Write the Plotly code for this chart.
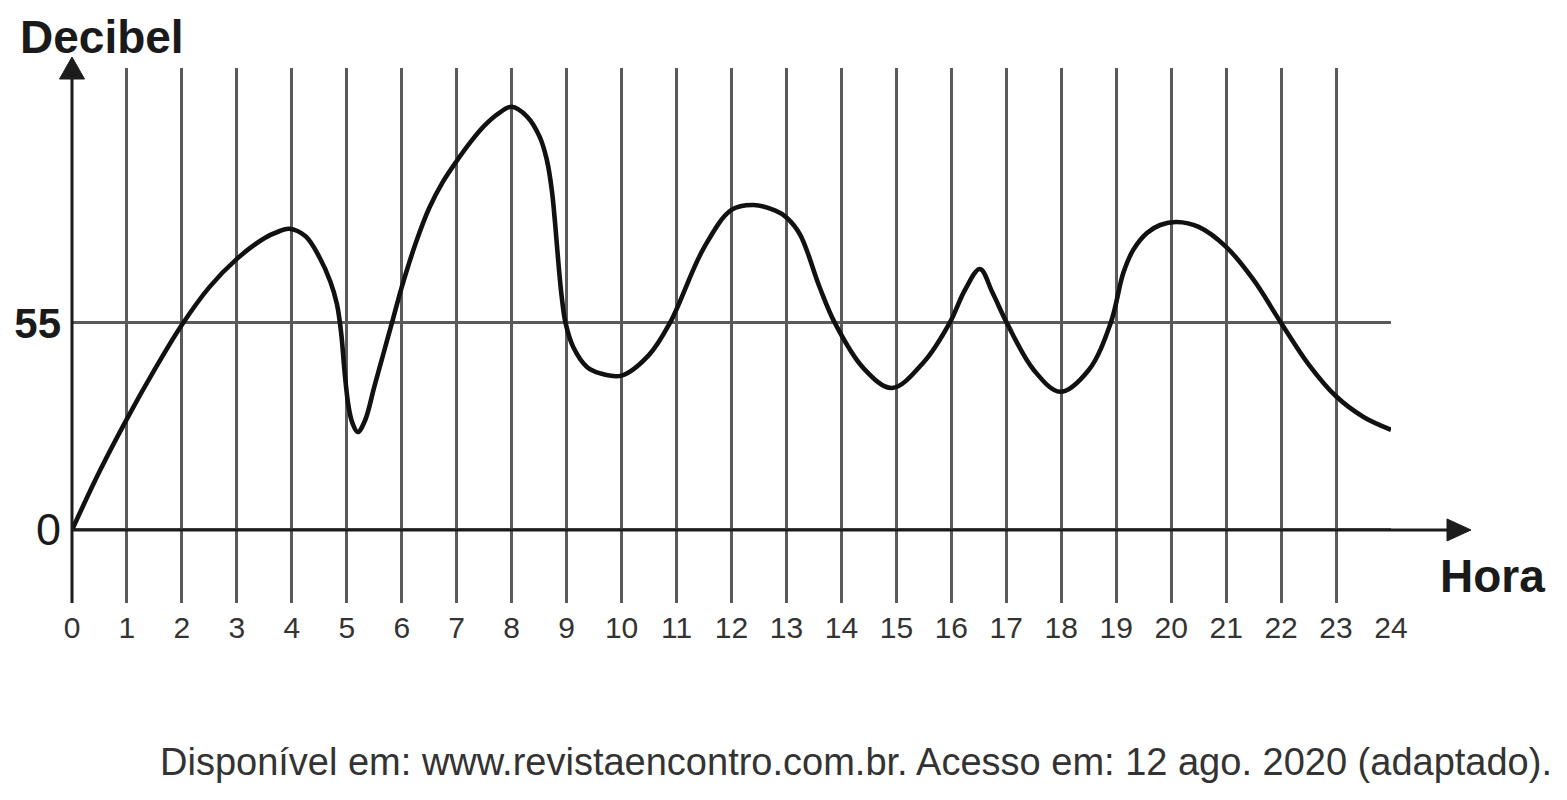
import plotly.graph_objects as go

# ---- data ----
hours = [0, 0.5, 1, 1.5, 2, 2.5, 3, 3.5, 3.75, 3.95, 4.25, 4.5, 4.7, 4.82, 4.9,
         4.96, 5.03, 5.1, 5.2, 5.33, 5.5, 5.67, 5.84, 6.0, 6.25, 6.5, 6.75, 7.0,
         7.25, 7.5, 7.75, 8.0, 8.28, 8.51, 8.64, 8.73, 8.79, 8.85, 8.91, 8.98, 9.12,
         9.37, 9.61, 10.0, 10.5, 10.88, 11.5, 12.0, 12.4, 12.8, 13.0, 13.25, 13.6,
         13.88, 14.4, 14.92, 15.5, 15.97, 16.25, 16.52, 16.75, 17.01, 17.5, 17.98,
         18.5, 18.9, 19.13, 19.31, 19.56, 19.8, 20.1, 20.5, 21.0, 21.5, 22.0, 22.5,
         23.0, 23.5, 24.0]
decibel = [0, 15.5, 29.5, 42.5, 54.5, 64.5, 72, 77.5, 79.2, 80, 78, 72.5, 66, 60, 52,
           42, 33, 28.5, 26, 29, 38, 47, 56, 64.5, 76, 85.5, 92.5, 98,
           103, 107.3, 110.5, 112.4, 109.8, 104.4, 98.3, 90.3, 81.5, 71, 62, 55, 48.6,
           43.3, 41.6, 41, 46.5, 55, 75, 85, 86.3, 84.8, 83, 78.4, 64.6,
           55, 43, 37.7, 44.6, 55, 63.8, 69.3, 63, 55, 42.5, 36.7,
           42.5, 55, 68.3, 74.4, 78.9, 81, 81.8, 80.5, 75.2, 66.4, 55, 44,
           35.5, 30, 26.6]

x_ticks = list(range(0, 25))
x_tick_labels = [str(h) for h in x_ticks]
y_ticks = [0, 55]
y_tick_labels = ['<span style="font-size:45px">0</span>', '<b>55</b>']
x_title = "Hora"
y_title = "Decibel"
source = "Disponível em: www.revistaencontro.com.br. Acesso em: 12 ago. 2020 (adaptado)."

FONT = "Liberation Sans, Arial, Helvetica, sans-serif"
OFF = 8                      # page body margin
W, H = 1567 - OFF, 800 - OFF
ML, MT = 72 - OFF, 68 - OFF
PLOT_R, PLOT_B = 1391 - OFF, 603 - OFF
MR, MB = W - PLOT_R, H - PLOT_B
YR = [-19.4, 122.7]
plot_w = W - ML - MR
plot_h = H - MT - MB


def px_x(p):
    """screen pixel x -> paper x"""
    return (p - OFF - ML) / plot_w


def px_y(p):
    """screen pixel y -> paper y"""
    return (PLOT_B - (p - OFF)) / plot_h


fig = go.Figure()
fig.add_trace(go.Scatter(
    x=hours, y=decibel, mode="lines",
    line=dict(color="#111111", width=4.6, shape="spline", smoothing=1.0),
    hoverinfo="skip", showlegend=False,
))

shapes = []
ax_col = "#1c1c1c"
# x axis line with arrow
shapes.append(dict(type="line", xref="paper", yref="y", x0=0, x1=px_x(1452), y0=0, y1=0,
                   line=dict(color=ax_col, width=3)))
ah = 11 / (plot_h / (YR[1] - YR[0]))
shapes.append(dict(type="path", xref="paper", yref="y",
                   path=f"M {px_x(1447)},{ah} L {px_x(1471)},0 L {px_x(1447)},{-ah} Z",
                   fillcolor=ax_col, line=dict(color=ax_col, width=1)))
# y axis line with arrow
shapes.append(dict(type="line", xref="paper", yref="paper", x0=0, x1=0, y0=0, y1=px_y(76),
                   line=dict(color=ax_col, width=3)))
hw = 12.5 / plot_w
shapes.append(dict(type="path", xref="paper", yref="paper",
                   path=f"M {-hw},{px_y(79)} L 0,{px_y(57)} L {hw},{px_y(79)} Z",
                   fillcolor=ax_col, line=dict(color=ax_col, width=1)))

annotations = [
    dict(text=f"<b>{y_title}</b>", xref="paper", yref="paper", x=px_x(18), y=px_y(37),
         xanchor="left", yanchor="middle", showarrow=False,
         font=dict(family=FONT, size=46, color="#1a1a1a")),
    dict(text=f"<b>{x_title}</b>", xref="paper", yref="paper", x=px_x(1438), y=px_y(576),
         xanchor="left", yanchor="middle", showarrow=False,
         font=dict(family=FONT, size=46, color="#1a1a1a")),
    dict(text=source, xref="paper", yref="paper", x=px_x(1554), y=px_y(762),
         xanchor="right", yanchor="middle", showarrow=False,
         font=dict(family=FONT, size=38, color="#333333")),
]

fig.update_layout(
    width=W, height=H,
    margin=dict(l=ML, r=MR, t=MT, b=MB, pad=0, autoexpand=False),
    paper_bgcolor="white", plot_bgcolor="white",
    shapes=shapes, annotations=annotations,
    xaxis=dict(range=[0, 24], tickvals=x_ticks, ticktext=x_tick_labels,
               showgrid=True, gridcolor="#5a5a5a", gridwidth=2.5,
               zeroline=False, showline=False, ticks="", automargin=False,
               tickfont=dict(family=FONT, size=30, color="#333333"),
               ticklabelstandoff=4, fixedrange=True),
    yaxis=dict(range=YR, tickvals=y_ticks, ticktext=y_tick_labels,
               showgrid=True, gridcolor="#5a5a5a", gridwidth=2.5,
               zeroline=False, showline=False, ticks="", automargin=False,
               tickfont=dict(family=FONT, size=42, color="#1a1a1a"),
               ticklabelstandoff=10, fixedrange=True),
    showlegend=False,
)

fig.write_html("out.html")
